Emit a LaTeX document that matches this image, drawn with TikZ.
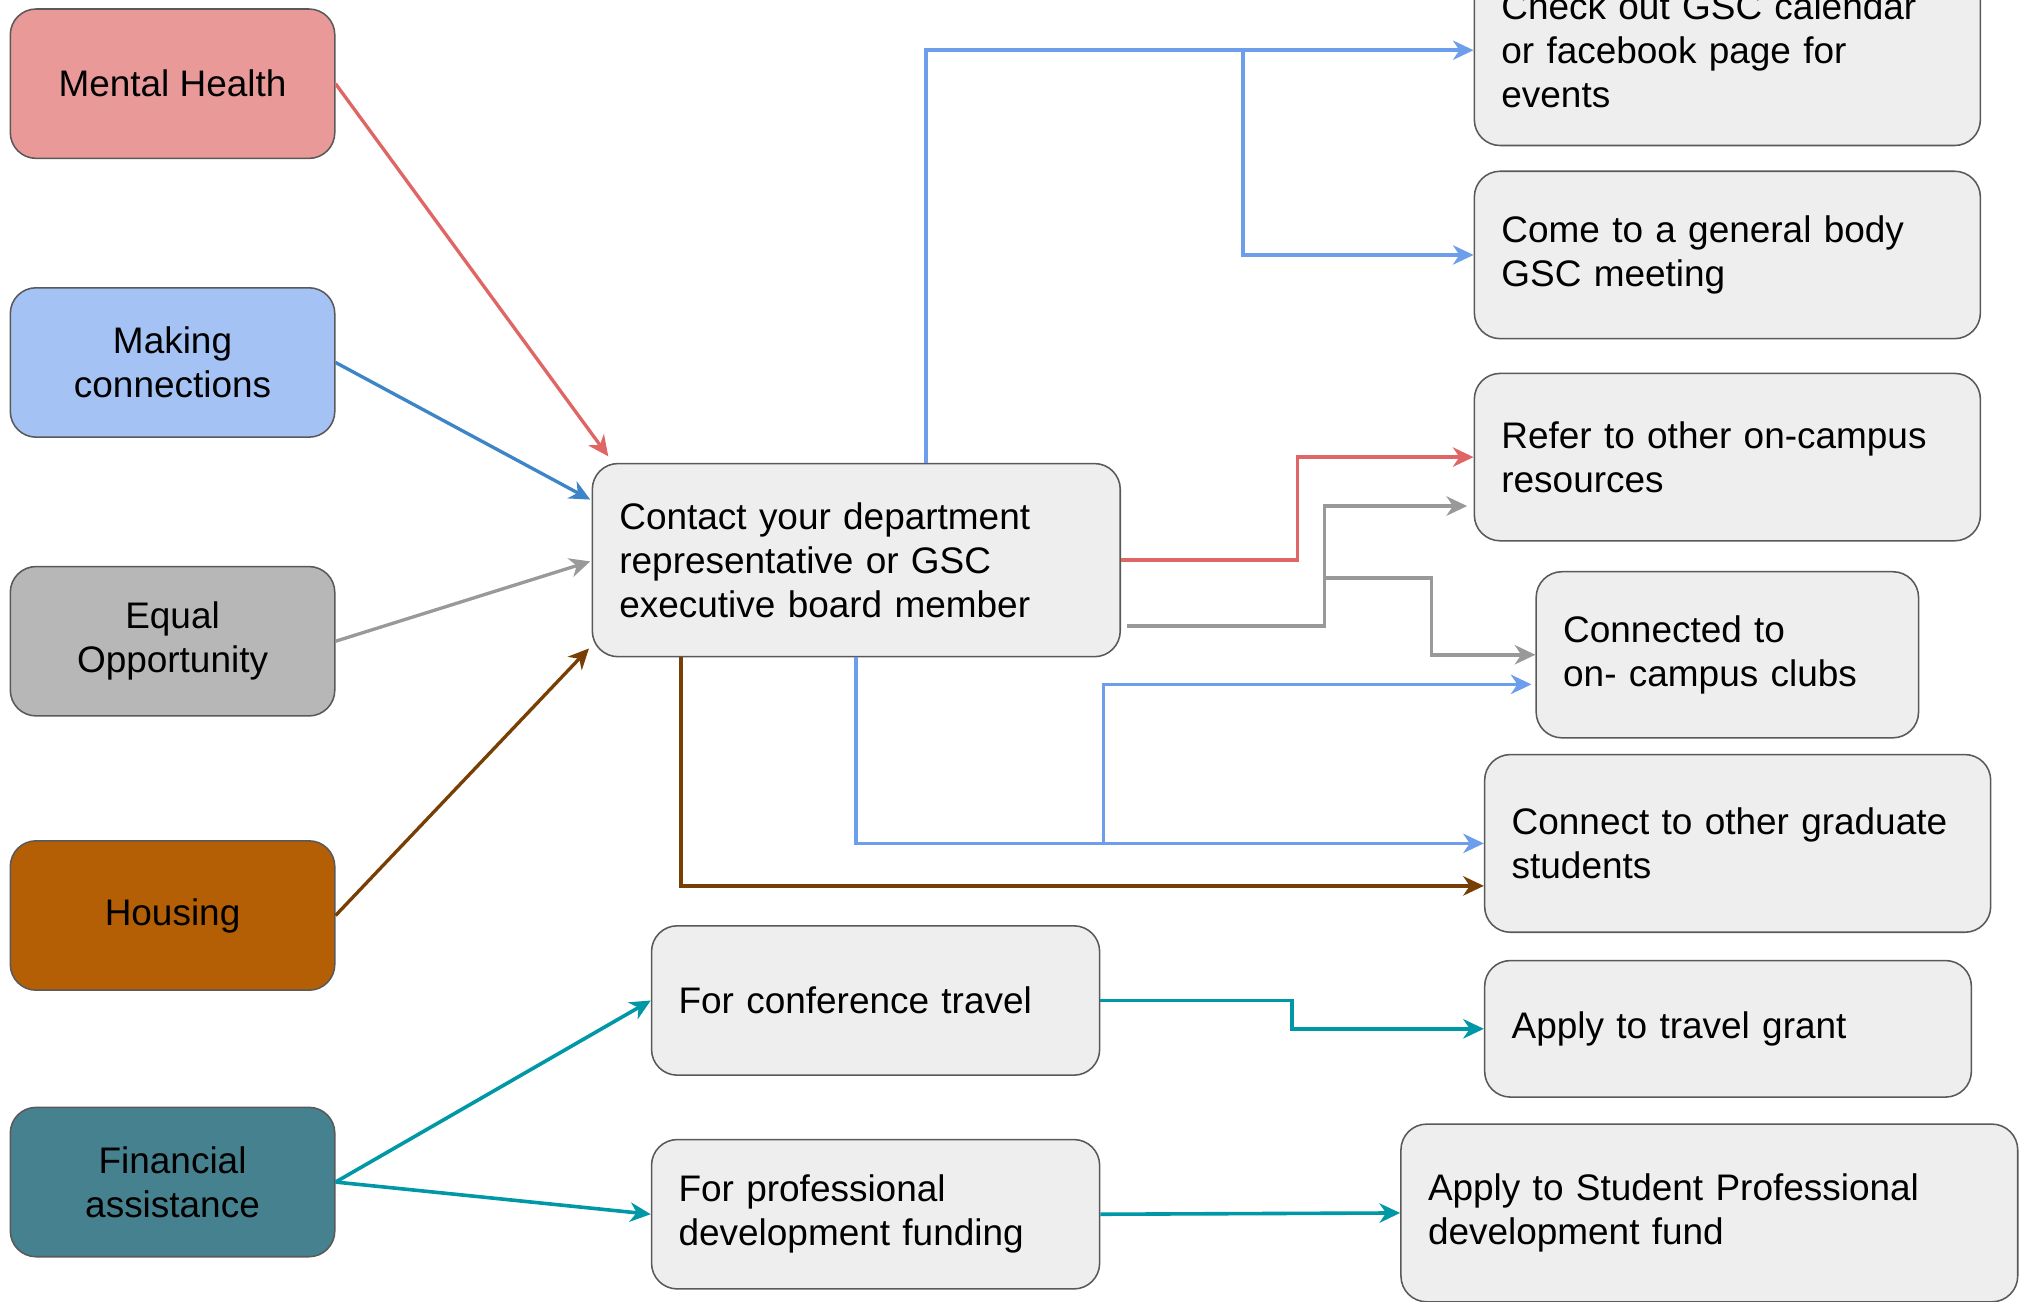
\documentclass[tikz,border=0pt]{standalone}
\usepackage{fontspec}
\setmainfont{Liberation Sans}
\usetikzlibrary{arrows.meta,calc}

\definecolor{mhfill}{HTML}{EA9999}
\definecolor{mcfill}{HTML}{A4C2F4}
\definecolor{eqfill}{HTML}{B7B7B7}
\definecolor{hofill}{HTML}{B45F06}
\definecolor{fifill}{HTML}{45818E}
\definecolor{boxgray}{HTML}{EEEEEE}
\definecolor{edgegray}{HTML}{595959}
\definecolor{redline}{HTML}{E06666}
\definecolor{blueline}{HTML}{3D85C6}
\definecolor{grayline}{HTML}{999999}
\definecolor{brownline}{HTML}{783F04}
\definecolor{lblueline}{HTML}{6D9EEB}
\definecolor{tealline}{HTML}{0097A7}

\begin{document}
\begin{tikzpicture}[x=0.5pt,y=-0.5pt,>={Stealth[length=8pt,width=7.5pt,inset=2.5pt]},
every node/.style={font=\fontsize{14.35}{17}\selectfont},
cat/.style={draw=edgegray, line width=0.6pt, rounded corners=10pt, minimum width=126pt, minimum height=58pt, align=center, inner sep=0pt},
res/.style={draw=edgegray, line width=0.6pt, fill=boxgray, rounded corners=10pt, align=left, inner xsep=10.5pt, inner ysep=0pt},
link/.style={->, line width=1.4pt}]
\clip (0,0) rectangle (1568,1011);

% categories
\node[cat, fill=mhfill] (mh) at (134,65) {Mental Health};
\node[cat, fill=mcfill] (mc) at (134,281.5) {Making\\connections};
\node[cat, fill=eqfill] (eq) at (134,498) {Equal\\Opportunity};
\node[cat, fill=hofill] (ho) at (134,711) {Housing};
\node[cat, fill=fifill] (fin) at (134,918) {Financial\\assistance};

% middle
\node[res, text width=184pt, minimum height=75pt] (cont) at (665,435) {Contact your department\\representative or GSC\\executive board member};
\node[res, text width=153pt, minimum height=58pt] (conf) at (680,777) {For conference travel};
\node[res, text width=153pt, minimum height=58pt] (prof) at (680,943) {For professional\\development funding};

% right
\node[res, text width=175.5pt, minimum height=74pt] (cal) at (1341.5,39) {Check out GSC calendar\\or facebook page for\\events};
\node[res, text width=175.5pt, minimum height=65pt] (gen) at (1341.5,198) {Come to a general body\\GSC meeting};
\node[res, text width=175.5pt, minimum height=65pt] (ref) at (1341.5,355) {Refer to other on-campus\\resources};
\node[res, text width=127.5pt, minimum height=64.5pt] (clubs) at (1341.5,508.5) {Connected to\\on- campus clubs};
\node[res, text width=175.5pt, minimum height=69pt] (grad) at (1349.5,655) {Connect to other graduate\\students};
\node[res, text width=168pt, minimum height=53pt] (grant) at (1342,799) {Apply to travel grant};
\node[res, text width=218.5pt, minimum height=69pt] (fund) at (1327.5,942) {Apply to Student Professional\\development fund};

% into the contact box
\draw[link, redline, line width=1.3pt] (mh.east) -- ($(cont.north west)+(13,-5)$);
\draw[link, blueline, line width=1.3pt] (mc.east) -- ($(cont.west)+(-1,-47)$);
\draw[link, grayline, line width=1.3pt] (eq.east) -- ($(cont.west)+(-1,1)$);
\draw[link, brownline, line width=1.3pt] (ho.east) -- ($(cont.south west)+(-2,-7)$);

% out of the contact box
\draw[link, lblueline] ($(cont.north)+(54,0)$) |- (cal.west);
\draw[link, lblueline] ($(cal.west)+(-179,0)$) |- (gen.west);
\draw[link, redline] (cont.east) -- ++(137,0) |- (ref.west);
\draw[link, grayline] ($(cont.east)+(5,51)$) -- ++(153,0) |- ($(ref.west)+(-5,38)$);
\draw[link, grayline] ($(cont.east)+(158,14)$) -- ++(83,0) |- (clubs.west);
\draw[link, lblueline] (cont.south) |- (grad.west);
\draw[link, lblueline] ($(cont.south)+(192,145)$) |- ($(clubs.west)+(-3,23)$);
\draw[link, brownline] ($(cont.south)+(-136,0)$) |- ($(grad.west)+(0,33)$);

% money
\draw[link, tealline] (fin.east) -- (conf.west);
\draw[link, tealline] (fin.east) -- (prof.west);
\draw[link, tealline] (conf.east) -- ++(149,0) |- (grant.west);
\draw[link, tealline] (prof.east) -- (fund.west);
\end{tikzpicture}
\end{document}
